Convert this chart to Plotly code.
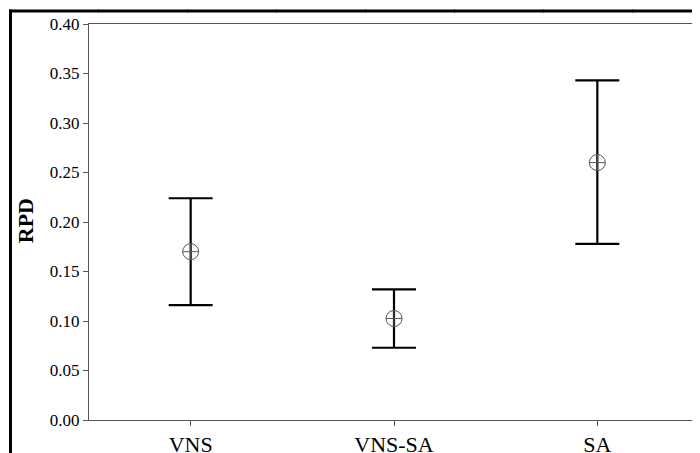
import plotly.graph_objects as go

categories = ["VNS", "VNS-SA", "SA"]
means = [0.170, 0.1025, 0.260]
upper = [0.224, 0.132, 0.343]
lower = [0.116, 0.073, 0.178]
y_ticks = [0.00, 0.05, 0.10, 0.15, 0.20, 0.25, 0.30, 0.35, 0.40]

err_plus = [u - m for u, m in zip(upper, means)]
err_minus = [m - l for m, l in zip(means, lower)]

fig = go.Figure()
fig.add_trace(go.Scatter(
    x=categories, y=means, mode="markers",
    marker=dict(symbol="circle-cross-open", size=16, color="#555555",
                line=dict(color="#555555", width=1)),
    error_y=dict(type="data", array=err_plus, arrayminus=err_minus,
                 color="black", thickness=2.2, width=22),
    showlegend=False,
))

# the page has an 8px body margin; the figure is sized to fit the rest of the window
OFF = 8
W, H = 700 - OFF, 453 - OFF
L, R, T, B = 89 - OFF, 1, 23.5 - OFF, 453 - 420
pw = W - L - R
ph = H - T - B
bottom_px = H - B


def px_x(x):  # figure pixel column -> paper x
    return (x - L) / pw


def px_y(y):  # figure pixel row -> paper y
    return (bottom_px - y) / ph


# outer frame: top edge drawn in short pieces, plus the left edge
frame = []
for start in range(1, W, 89):
    end = min(start + 90, W)
    frame.append(dict(type="rect", xref="paper", yref="paper", layer="above",
                      x0=px_x(start), x1=px_x(end), y0=px_y(1), y1=px_y(4),
                      fillcolor="black", line=dict(width=0)))
frame.append(dict(type="rect", xref="paper", yref="paper", layer="above",
                  x0=px_x(1), x1=px_x(4), y0=px_y(1), y1=px_y(H),
                  fillcolor="black", line=dict(width=0)))

fig.update_layout(
    template="none",
    width=W, height=H,
    margin=dict(l=L, r=R, t=T, b=B, pad=0),
    paper_bgcolor="white", plot_bgcolor="white",
    font=dict(family="Liberation Serif", color="black"),
    xaxis=dict(range=[-0.5, 2.5], showgrid=False, zeroline=False, automargin=False,
               showline=True, linecolor="#555555", linewidth=1, mirror=True,
               ticks="outside", ticklen=5, tickcolor="#555555",
               tickfont=dict(family="Liberation Serif", size=22, color="black")),
    yaxis=dict(range=[0, 0.4], tickvals=y_ticks,
               ticktext=[f"{v:.2f}" for v in y_ticks], automargin=False,
               showgrid=False, zeroline=False,
               showline=True, linecolor="#555555", linewidth=1, mirror=True,
               ticks="outside", ticklen=5, tickcolor="#555555",
               tickfont=dict(family="Liberation Serif", size=17, color="black")),
    annotations=[dict(text="<b>RPD</b>", xref="paper", yref="paper",
                      x=px_x(25 - OFF), y=px_y(221 - OFF), textangle=-90,
                      showarrow=False, xanchor="center", yanchor="middle",
                      font=dict(family="Liberation Serif", size=22, color="black"))],
    shapes=frame,
)

fig.write_html("out.html", config={"displayModeBar": False})
